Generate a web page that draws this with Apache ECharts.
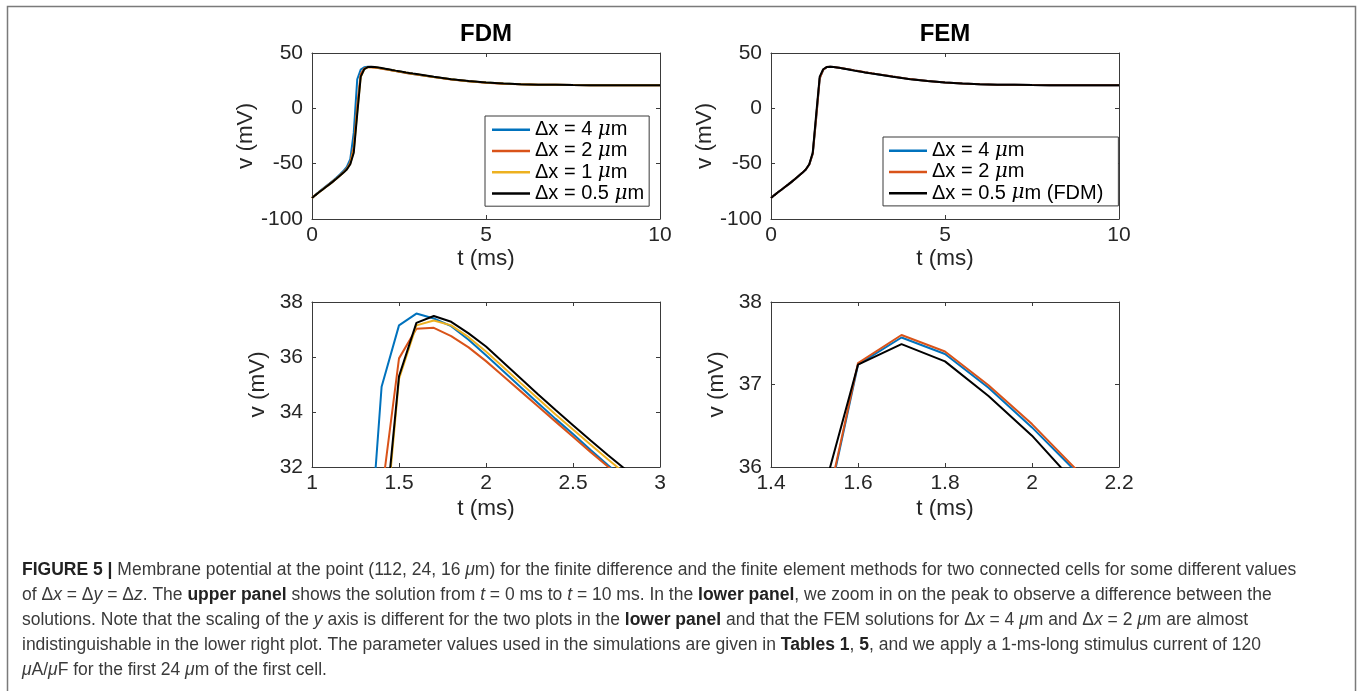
<!DOCTYPE html>
<html>
<head>
<meta charset="utf-8">
<script src="https://cdn.jsdelivr.net/npm/echarts@6/dist/echarts.min.js"></script>
<style>
html,body{margin:0;padding:0;background:#fff;}
#chart{width:1360px;height:691px;}
</style>
</head>
<body>
<div id="chart"></div>
<script>
// ---- data (t in ms, v in mV) ----
const t = [0,0.1,0.2,0.3,0.4,0.5,0.6,0.7,0.8,0.9,1.0,1.1,1.2,1.3,1.4,1.5,1.6,1.7,1.8,1.9,2.0,2.1,2.2,2.3,2.4,2.5,2.6,2.7,2.8,2.9,3.0,3.5,4,4.5,5,5.5,6,6.5,7,7.5,8,9,10];

const fdm4 = [-81.0,-78.2,-75.5,-73.0,-70.5,-68.0,-65.4,-62.7,-59.8,-56.7,-53.0,-46.0,-22.0,26.3,34.92,37.15,37.58,37.40,37.12,36.63,36.06,35.48,34.90,34.32,33.75,33.20,32.63,32.07,31.55,31.04,30.56,28.3,26.2,24.5,23.3,22.4,21.8,21.4,21.2,21.0,20.9,20.9,20.9];
const fdm2 = [-81.0,-78.3,-75.8,-73.3,-70.9,-68.5,-66.0,-63.4,-60.6,-57.7,-54.5,-49.0,-35.0,3.0,31.0,35.95,37.03,37.06,36.76,36.35,35.85,35.30,34.75,34.20,33.65,33.10,32.55,32.02,31.50,31.00,30.52,28.2,26.1,24.4,23.2,22.3,21.7,21.4,21.2,21.0,20.9,20.9,20.9];
const fdm1 = [-81.0,-78.4,-75.9,-73.5,-71.1,-68.7,-66.2,-63.6,-60.9,-58.1,-55.0,-50.0,-38.0,-3.0,28.3,35.2,37.15,37.33,37.15,36.72,36.20,35.63,35.05,34.48,33.91,33.36,32.82,32.28,31.76,31.26,30.78,28.4,26.2,24.5,23.3,22.4,21.8,21.4,21.2,21.0,20.9,20.9,20.9];
const fdm05 = [-81.0,-78.4,-75.9,-73.5,-71.1,-68.7,-66.2,-63.7,-61.0,-58.3,-55.3,-50.5,-40.0,-5.0,28.7,35.3,37.24,37.49,37.28,36.86,36.38,35.80,35.22,34.64,34.07,33.52,32.97,32.44,31.92,31.42,30.93,28.5,26.3,24.6,23.3,22.4,21.8,21.4,21.2,21.0,20.9,20.9,20.9];
const fem4 = [-81.0,-78.4,-75.9,-73.5,-71.1,-68.7,-66.2,-63.7,-61.0,-58.3,-55.3,-50.8,-41.0,-8.0,27.0,34.80,37.24,37.57,37.37,36.96,36.48,35.95,35.40,34.84,34.28,33.73,33.18,32.64,32.11,31.60,31.10,28.7,26.4,24.7,23.4,22.4,21.8,21.4,21.2,21.0,20.9,20.9,20.9];
const fem2 = [-81.0,-78.4,-75.9,-73.5,-71.1,-68.7,-66.2,-63.7,-61.0,-58.3,-55.3,-50.8,-41.0,-8.0,27.0,34.84,37.26,37.60,37.40,36.99,36.52,35.98,35.43,34.87,34.31,33.76,33.21,32.67,32.14,31.63,31.13,28.7,26.4,24.7,23.4,22.4,21.8,21.4,21.2,21.0,20.9,20.9,20.9];

const namesFDM = ['Δx = 4 μm','Δx = 2 μm','Δx = 1 μm','Δx = 0.5 μm'];
const namesFEM = ['Δx = 4 μm','Δx = 2 μm','Δx = 0.5 μm (FDM)'];
const panelTitles = ['FDM','FEM'];
const xName = 't (ms)';
const yName = 'v (mV)';
const colors = {blue:'#0072BD', red:'#D95319', yellow:'#EDB120', black:'#000000'};

// ---- layout ----
const FONT = 'Liberation Sans, Arial, Helvetica, sans-serif';
const grids = [
  {left:312, top:53, width:348, height:166},
  {left:771, top:53, width:348, height:166},
  {left:312, top:302, width:348, height:165},
  {left:771, top:302, width:348, height:165}
];
const xr = [[0,10,5],[0,10,5],[1,3,0.5],[1.4,2.2,0.2]];
const yr = [[-100,50,50],[-100,50,50],[32,38,2],[36,38,1]];
const yNameGap = [53,53,43,43];
const xNameGap = [26,26,30,30];

const axisLineStyle = {color:'#3a3a3a', width:1};
const xAxes = [], yAxes = [];
grids.forEach((g,i)=>{
  xAxes.push({type:'value', gridIndex:i, min:xr[i][0], max:xr[i][1], interval:xr[i][2], position:'bottom',
    axisLine:{show:true, onZero:false, lineStyle:axisLineStyle},
    axisTick:{show:true, inside:true, length:4, lineStyle:axisLineStyle},
    splitLine:{show:false},
    axisLabel:{show:true, margin:6, fontSize:21, color:'#262626', fontFamily:FONT, showMinLabel:true, showMaxLabel:true},
    name:xName, nameLocation:'middle', nameGap:xNameGap[i],
    nameTextStyle:{fontSize:22.5, color:'#262626', fontFamily:FONT}
  });
  xAxes.push({type:'value', gridIndex:i, min:xr[i][0], max:xr[i][1], interval:xr[i][2], position:'top',
    axisLine:{show:true, onZero:false, lineStyle:axisLineStyle},
    axisTick:{show:true, inside:true, length:4, lineStyle:axisLineStyle},
    splitLine:{show:false}, axisLabel:{show:false}
  });
  yAxes.push({type:'value', gridIndex:i, min:yr[i][0], max:yr[i][1], interval:yr[i][2], position:'left',
    axisLine:{show:true, onZero:false, lineStyle:axisLineStyle},
    axisTick:{show:true, inside:true, length:4, lineStyle:axisLineStyle},
    splitLine:{show:false},
    axisLabel:{show:true, margin:9, fontSize:21, color:'#262626', fontFamily:FONT, showMinLabel:true, showMaxLabel:true},
    name:yName, nameLocation:'middle', nameGap:yNameGap[i],
    nameTextStyle:{fontSize:22.5, color:'#262626', fontFamily:FONT}
  });
  yAxes.push({type:'value', gridIndex:i, min:yr[i][0], max:yr[i][1], interval:yr[i][2], position:'right',
    axisLine:{show:true, onZero:false, lineStyle:axisLineStyle},
    axisTick:{show:true, inside:true, length:4, lineStyle:axisLineStyle},
    splitLine:{show:false}, axisLabel:{show:false}
  });
});

function pairs(arr){ return t.map((x,k)=>[x, arr[k]]); }
function line(name, arr, color, gi){
  return {type:'line', name:name, data:pairs(arr), xAxisIndex:2*gi, yAxisIndex:2*gi,
    symbol:'none', showSymbol:false, clip:true, silent:true, animation:false,
    lineStyle:{color:color, width:2}, itemStyle:{color:color}};
}
const series = [];
[0,2].forEach(gi=>{
  series.push(line(namesFDM[0], fdm4, colors.blue, gi));
  series.push(line(namesFDM[1], fdm2, colors.red, gi));
  series.push(line(namesFDM[2], fdm1, colors.yellow, gi));
  series.push(line(namesFDM[3], fdm05, colors.black, gi));
});
[1,3].forEach(gi=>{
  series.push(line(namesFEM[0], fem4, colors.blue, gi));
  series.push(line(namesFEM[1], fem2, colors.red, gi));
  series.push(line(namesFEM[2], fdm05, colors.black, gi));
});

const legendCommon = {
  orient:'vertical', icon:'rect', itemWidth:38, itemHeight:2.5, itemGap:0,
  backgroundColor:'#fff', borderColor:'#3a3a3a', borderWidth:1, borderRadius:0,
  selectedMode:false,
  formatter: n => n.replace('μ', '{i|μ}'),
  textStyle:{fontSize:20, color:'#000', fontFamily:FONT, lineHeight:21.3,
    rich:{i:{fontSize:20, fontStyle:'italic', fontFamily:'DejaVu Serif, serif', color:'#000', lineHeight:21.3}}}
};
const legends = [
  Object.assign({}, legendCommon, {data:namesFDM, left:485, top:116, padding:[3,5,2,7]}),
  Object.assign({}, legendCommon, {data:namesFEM, left:883, top:137, padding:[3,15,2,6]})
];

const cap = [
  '{b|FIGURE 5 |} Membrane potential at the point (112, 24, 16 {i|μ}m) for the finite difference and the finite element methods for two connected cells for some different values',
  'of Δ{i|x} = Δ{i|y} = Δ{i|z}. The {b|upper panel} shows the solution from {i|t} = 0 ms to {i|t} = 10 ms. In the {b|lower panel}, we zoom in on the peak to observe a difference between the',
  'solutions. Note that the scaling of the {i|y} axis is different for the two plots in the {b|lower panel} and that the FEM solutions for Δ{i|x} = 4 {i|μ}m and Δ{i|x} = 2 {i|μ}m are almost',
  'indistinguishable in the lower right plot. The parameter values used in the simulations are given in {b|Tables 1}, {b|5}, and we apply a 1-ms-long stimulus current of 120',
  '{i|μ}A/{i|μ}F for the first 24 {i|μ}m of the first cell.'
];
const CAPSIZE = 17.5;

const graphic = [
  {type:'rect', silent:true, shape:{x:7.5, y:6.5, width:1348, height:720},
    style:{fill:'none', stroke:'#7a7a7a', lineWidth:1.5}},
  {type:'text', silent:true, x:486, y:34, style:{text:panelTitles[0], align:'center', verticalAlign:'middle',
    fontSize:24, fontWeight:'bold', fontFamily:FONT, fill:'#000'}},
  {type:'text', silent:true, x:945, y:34, style:{text:panelTitles[1], align:'center', verticalAlign:'middle',
    fontSize:24, fontWeight:'bold', fontFamily:FONT, fill:'#000'}},
  {type:'text', silent:true, x:22, y:558, style:{
    text:cap.join('\n'), fontSize:CAPSIZE, fontFamily:FONT, fill:'#3a3a3a', lineHeight:25,
    align:'left', verticalAlign:'top',
    rich:{
      b:{fontSize:CAPSIZE, fontWeight:'bold', fontFamily:FONT, fill:'#222', lineHeight:25},
      i:{fontSize:CAPSIZE, fontStyle:'italic', fontFamily:FONT, fill:'#3a3a3a', lineHeight:25}
    }}}
];

const chart = echarts.init(document.getElementById('chart'), null, {renderer:'canvas'});
chart.setOption({
  animation:false,
  backgroundColor:'#fff',
  grid:grids.map(g=>Object.assign({containLabel:false, show:false}, g)),
  xAxis:xAxes, yAxis:yAxes,
  legend:legends,
  series:series,
  graphic:graphic
});
</script>
</body>
</html>
